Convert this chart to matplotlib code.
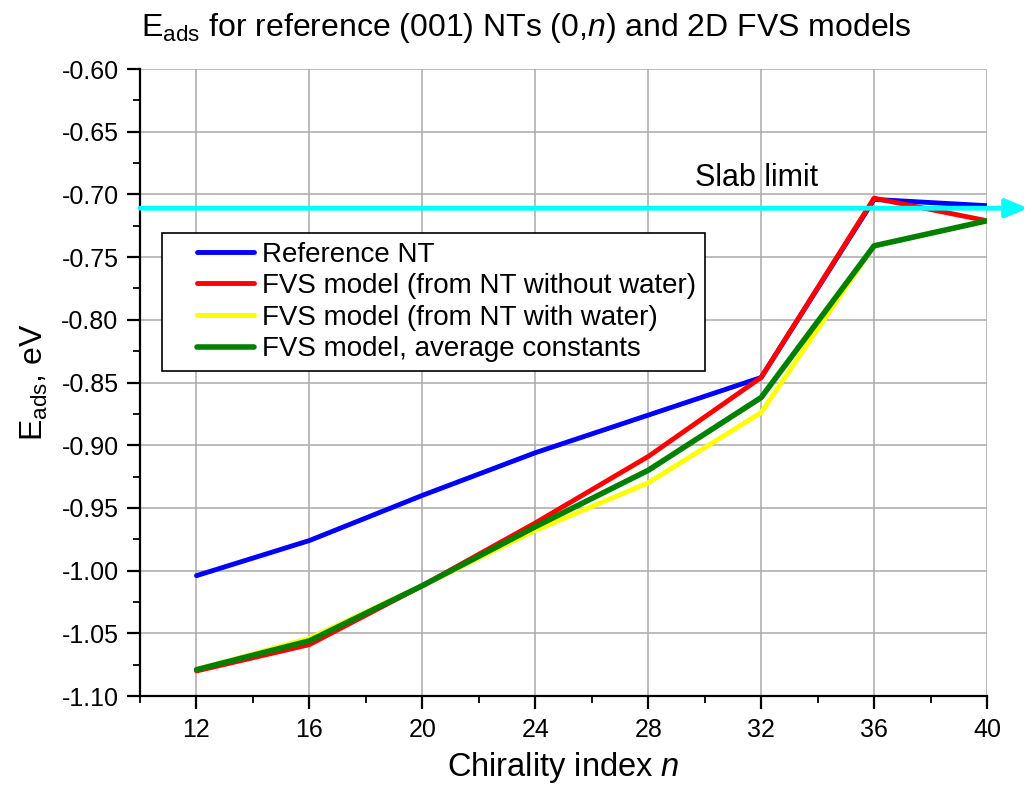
import numpy as np
import matplotlib
matplotlib.use("Agg")
import matplotlib.pyplot as plt
from matplotlib.legend_handler import HandlerLine2D

plt.rcParams['font.family'] = ['Liberation Sans', 'DejaVu Sans']
plt.rcParams['mathtext.fontset'] = 'custom'
plt.rcParams['mathtext.rm'] = 'Liberation Sans'
plt.rcParams['mathtext.it'] = 'Liberation Sans:italic'

# Datos
n_idx = [12, 16, 20, 24, 28, 32, 36, 40]
e_ref = [-1.004, -0.976, -0.940, -0.906, -0.876, -0.846, -0.704, -0.709]
e_sin_agua = [-1.080, -1.059, -1.012, -0.962, -0.909, -0.846, -0.703, -0.721]
e_con_agua = [-1.079, -1.054, -1.012, -0.968, -0.930, -0.874, -0.741, -0.721]
e_promedio = [-1.079, -1.056, -1.012, -0.965, -0.920, -0.862, -0.741, -0.721]
slab_limit = -0.711


class LineaDerecha(HandlerLine2D):
    """Dibuja la línea de la leyenda solo en la parte derecha del hueco."""
    def get_xdata(self, legend, xdescent, ydescent, width, height, fontsize):
        xdata = np.array([-xdescent + width * 0.32, -xdescent + width])
        return xdata, xdata


fig = plt.figure(figsize=(10.35, 7.87), dpi=100)
ax = fig.add_axes([0.1353, 0.1156, 0.8183, 0.7967])

estilo = dict(solid_capstyle='round', solid_joinstyle='round')
ax.plot(n_idx, e_ref, color='#0000ff', lw=3.5, label='Reference NT', zorder=3, **estilo)
ax.plot(n_idx, e_sin_agua, color='#ff0000', lw=3.5, label='FVS model (from NT without water)', zorder=3, **estilo)
ax.plot(n_idx, e_con_agua, color='#ffff00', lw=3.5, label='FVS model (from NT with water)', zorder=3, **estilo)
ax.plot(n_idx, e_promedio, color='#008000', lw=4.0, label='FVS model, average constants', zorder=4, **estilo)

# Flecha del límite de slab
ax.annotate('', xy=(41.45, slab_limit), xytext=(10, slab_limit),
            xycoords='data', textcoords='data', annotation_clip=False,
            arrowprops=dict(arrowstyle='-|>,head_length=1.3,head_width=0.55',
                            color='#00ffff', lw=3.5, shrinkA=0, shrinkB=0),
            zorder=5)
ax.text(29.65, -0.687, 'Slab limit', fontsize=22, va='center', ha='left')

ax.set_xlim(10, 40)
ax.set_ylim(-1.10, -0.60)
ax.set_xticks(n_idx)
ax.set_xticks(np.arange(10, 41, 2), minor=True)
yt = np.arange(-1.10, -0.599, 0.05)
ax.set_yticks(yt)
ax.set_yticks(np.arange(-1.10, -0.599, 0.025), minor=True)
ax.set_yticklabels([f'{v:.2f}' for v in yt])
ax.grid(True, which='major', color='#aaaaaa', lw=1.1)
ax.set_axisbelow(True)

for s in ['top', 'right']:
    ax.spines[s].set_visible(False)
for s in ['left', 'bottom']:
    ax.spines[s].set_linewidth(1.6)
ax.tick_params(which='major', direction='out', length=9.5, width=1.6, labelsize=18, pad=6)
ax.tick_params(which='minor', direction='out', length=5, width=1.3)

ax.set_xlabel('Chirality index $n$', fontsize=23.5, labelpad=6)
ax.set_ylabel('E$_{\\mathrm{ads}}$, eV', fontsize=23, labelpad=8)
fig.text(0.509, 0.965, 'E$_{\\mathrm{ads}}$ for reference (001) NTs (0,$n$) and 2D FVS models',
         fontsize=23, ha='center', va='center')

leg = ax.legend(loc='upper left', bbox_to_anchor=(0.026, 0.738), fontsize=20,
                frameon=True, fancybox=False, edgecolor='black', framealpha=1,
                handlelength=3.0, handletextpad=0.3, borderpad=0.3, labelspacing=0.2,
                borderaxespad=0, handler_map={plt.Line2D: LineaDerecha()})
leg.get_frame().set_linewidth(1.2)
leg.set_zorder(6)

fig.savefig('out.png', dpi=100)
